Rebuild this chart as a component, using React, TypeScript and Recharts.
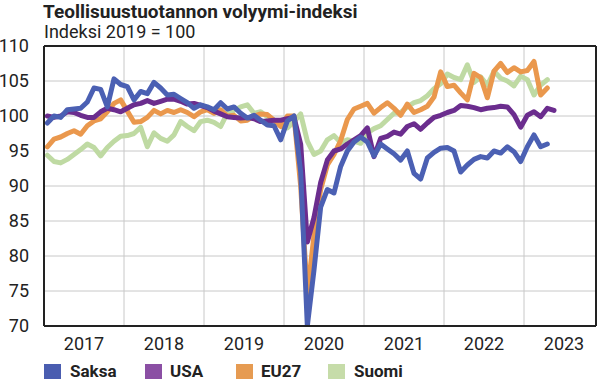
import { CartesianGrid, Line, LineChart, ReferenceLine, XAxis, YAxis } from "recharts";

const SAKSA = "#4b60b3";
const USA = "#6b2d8e";
const EU27 = "#ea984d";
const SUOMI = "#bfdaa3";

// monthly values, Jan 2017 onwards
const saksa = [
  99, 100, 99.8, 100.9, 101, 101.1, 102, 104, 103.8, 101.3, 105.3, 104.5,
  104.2, 102.3, 103.5, 103.2, 104.8, 104, 103, 103.1, 102.5, 101.9, 101.1, 101.6,
  101.3, 100.9, 101.9, 101, 101.3, 100.4, 99.7, 100.1, 99.4, 98.7, 98.6, 96.6,
  99.3, 100, 92, 70, 78, 87, 89.5, 89, 92.8, 95, 96.3, 97,
  96.3, 94.3, 96, 95.3, 94.6, 93.7, 95, 91.8, 91, 94, 94.8, 95.4,
  95.5, 95, 92, 93, 93.8, 94.2, 94, 95, 94.7, 95.6, 94.9, 93.5,
  95.6, 97.3, 95.6, 96,
];
const usa = [
  100, 99.8, 100, 100.6, 100.5, 100.1, 99.8, 99.8, 100.6, 101.1, 100.9, 100.6,
  101.1, 101.6, 101.8, 102.2, 101.8, 102.1, 102.4, 102.4, 102.1, 101.7, 101.8, 101.5,
  101.2, 100.7, 100.3, 99.9, 99.8, 99.7, 99.8, 99.6, 99.2, 99.3, 99.4, 99.4,
  99.6, 99.8, 96, 82, 85.5, 90.5, 93.7, 95, 95.3, 96, 96.6, 97.2,
  98.3, 94.2, 96.8, 97.1, 97.7, 97.4, 98.5, 98.9, 98.1, 99, 99.8, 100.1,
  100.5, 100.8, 101.5, 101.4, 101.2, 100.9, 101.1, 101.2, 101.4, 101.3, 100.2, 98.4,
  100.1, 100.6, 99.9, 101.1, 100.8,
];
const eu27 = [
  95.6, 96.7, 97, 97.5, 97.9, 97.4, 98.6, 99.3, 99.6, 100.6, 101.8, 102.3,
  100.7, 99.1, 99.2, 99.8, 100.8, 100.3, 100.8, 100.5, 100.9, 100.5, 99.9, 100.6,
  100.9, 100.4, 100.9, 100, 100.1, 99.3, 99.4, 100, 100.3, 100.2, 99.4, 98.5,
  100, 100, 90, 74.5, 83, 89.5, 93, 94.5, 96.5, 99.5, 101, 101.4,
  101.8, 100.4, 101.2, 101.9, 101.1, 100.1, 101.7, 100.5, 100.9, 101.4, 102.7, 106.3,
  104.2, 104.4, 103.3, 102.3, 106.1, 105.5, 102.6, 106.4, 107.5, 106.2, 106.9, 106.3,
  106.5, 107.8, 103, 104,
];
const suomi = [
  94.4, 93.5, 93.3, 93.8, 94.5, 95.2, 96, 95.5, 94.3, 95.5, 96.4, 97.1,
  97.2, 97.5, 98.4, 95.6, 97.6, 96.8, 96.4, 97.3, 99.2, 98.5, 97.9, 99.2,
  99.4, 99.1, 98.5, 100.4, 100.8, 101.3, 101.6, 100.4, 100.6, 99.9, 99.4, 98.7,
  98.3, 99.2, 100.3, 96.4, 94.5, 95, 96.6, 97.2, 96.2, 96.6, 96.4, 96.1,
  97.6, 98.2, 98.6, 99.5, 100.4, 100.5, 101.3, 101.9, 102.2, 102.9, 103.9, 104.6,
  106, 105.5, 105.2, 107.3, 104.8, 105.6, 104.4, 106.4, 105.4, 105, 104.3, 105.7,
  105.2, 103, 104.4, 105.2,
];

const years = ["2017", "2018", "2019", "2020", "2021", "2022", "2023"];
const yTicks = [70, 75, 80, 85, 90, 95, 100, 105, 110];

// x in months from Jan 2017; points sit mid-month
const X_MAX = 82.8;
const yearMids = years.map((_, k) => k * 12 + 6);
const yearBounds = years.slice(1).map((_, k) => (k + 1) * 12);

const rows = usa.map((_, i) => ({
  t: i + 0.5,
  saksa: saksa[i] ?? null,
  usa: usa[i] ?? null,
  eu27: eu27[i] ?? null,
  suomi: suomi[i] ?? null,
}));

const legend = [
  { name: "Saksa", color: "#4a5db0", x: 44, tx: 70 },
  { name: "USA", color: "#8b4fa4", x: 145, tx: 170 },
  { name: "EU27", color: "#e69b52", x: 236, tx: 261 },
  { name: "Suomi", color: "#c6dca9", x: 328, tx: 354 },
];

const FONT = "Roboto, 'Noto Sans', sans-serif";
const INK = "#222";

export default function App() {
  const tick = { fontSize: 18, fill: INK, fontFamily: FONT };
  return (
    <div
      style={{
        position: "absolute",
        left: 0,
        top: 0,
        width: 605,
        height: 391,
        background: "#fff",
        fontFamily: FONT,
        color: INK,
      }}
    >
      <div style={{ position: "absolute", left: 43, top: 2, fontSize: 19, lineHeight: "20px", fontWeight: 700, whiteSpace: "nowrap" }}>
        Teollisuustuotannon volyymi-indeksi
      </div>
      <div style={{ position: "absolute", left: 44, top: 22, fontSize: 18, lineHeight: "20px", whiteSpace: "nowrap" }}>
        Indeksi 2019 = 100
      </div>

      <div style={{ position: "absolute", left: 0, top: 0 }}>
        <LineChart width={605} height={391} data={rows} margin={{ top: 46, right: 9, bottom: 35, left: 0 }}>
          <CartesianGrid
            stroke="#c8c8c8"
            strokeWidth={1}
            verticalCoordinatesGenerator={({ offset }: any) =>
              yearBounds.map((v) => offset.left + (v / X_MAX) * offset.width)
            }
          />
          <XAxis
            dataKey="t"
            type="number"
            domain={[0, X_MAX]}
            ticks={yearMids}
            tickFormatter={(v: number) => years[Math.round((v - 6) / 12)]}
            tick={tick}
            tickLine={false}
            tickSize={0}
            tickMargin={11}
            height={30}
            axisLine={{ stroke: INK, strokeWidth: 2 }}
            allowDataOverflow
          />
          <YAxis
            domain={[70, 110]}
            ticks={yTicks}
            tick={tick}
            tickLine={false}
            tickSize={0}
            tickMargin={15}
            width={44}
            axisLine={{ stroke: INK, strokeWidth: 2 }}
            allowDataOverflow
          />
          <ReferenceLine y={110} stroke={INK} strokeWidth={2} />
          <ReferenceLine x={X_MAX} stroke={INK} strokeWidth={2} />
          <Line dataKey="suomi" stroke={SUOMI} strokeWidth={5} dot={false} isAnimationActive={false} strokeLinejoin="round" strokeLinecap="round" />
          <Line dataKey="eu27" stroke={EU27} strokeWidth={5} dot={false} isAnimationActive={false} strokeLinejoin="round" strokeLinecap="round" />
          <Line dataKey="usa" stroke={USA} strokeWidth={5} dot={false} isAnimationActive={false} strokeLinejoin="round" strokeLinecap="round" />
          <Line dataKey="saksa" stroke={SAKSA} strokeWidth={5} dot={false} isAnimationActive={false} strokeLinejoin="round" strokeLinecap="round" />
        </LineChart>
      </div>

      {legend.map((l) => (
        <div key={l.name}>
          <div style={{ position: "absolute", left: l.x, top: 364, width: 17, height: 15, background: l.color }} />
          <div style={{ position: "absolute", left: l.tx, top: 360, fontSize: 17, fontWeight: 700, lineHeight: "22px" }}>
            {l.name}
          </div>
        </div>
      ))}
    </div>
  );
}
